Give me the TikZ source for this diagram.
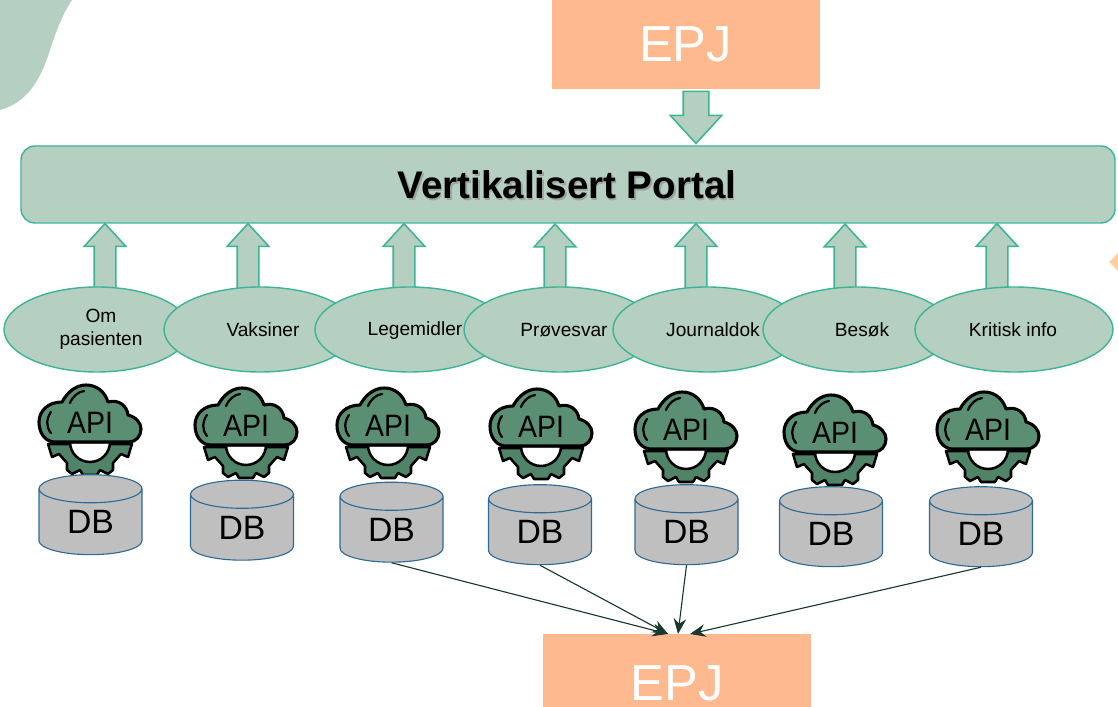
\documentclass[tikz,border=0pt]{standalone}
\usepackage{fontspec}
\setmainfont{Liberation Sans}
\usetikzlibrary{shapes.geometric,shapes.arrows,arrows.meta}

\definecolor{portalfill}{HTML}{B5CFC0}
\definecolor{portalline}{HTML}{3CB595}
\definecolor{epjfill}{HTML}{FFB98F}
\definecolor{cornerfill}{HTML}{FFD09C}
\definecolor{dbfill}{HTML}{BFBFBF}
\definecolor{dbline}{HTML}{2E6A96}
\definecolor{cloudfill}{HTML}{5A8F73}
\definecolor{gearfill}{HTML}{4F8468}
\definecolor{linkline}{HTML}{17392F}
\def\px{0.025cm}

\tikzset{
    epjbox/.style={fill=epjfill, text=white, inner sep=0pt, minimum width=268*\px, font=\fontsize{36}{36}\selectfont},
    upblock/.style={single arrow, draw=portalline, fill=portalfill, line width=1.1pt, inner xsep=0pt, inner ysep=10*\px, rotate=90, minimum height=66*\px, single arrow head extend=10*\px, single arrow tip angle=85},
    topic/.style={ellipse, draw=portalline, fill=portalfill, line width=1pt, inner sep=0pt, minimum height=85*\px},
    topiclabel/.style={align=center, inner sep=0pt, font=\fontsize{13.6}{16.5}\selectfont},
    dbstack/.style={cylinder, shape border rotate=90, aspect=0.6, draw=dbline, fill=dbfill, line width=0.8pt, inner sep=0pt, minimum width=103*\px, minimum height=80*\px, font=\fontsize{24}{24}\selectfont},
    pics/apiicon/.style={code={
        \draw[fill=gearfill, line width=1.8pt, line join=round] (-42,2) -- (-38,15) -- (-31,12) -- (-23,21) -- (-23,28) -- (-18,32) -- (-10,28) -- (-7,33) -- (7,33) -- (10,28) -- (18,32) -- (23,28) -- (23,21) -- (31,12) -- (38,15) -- (42,2) -- cycle;
        \draw[fill=white, line width=1.8pt] (-20,0) arc[start angle=180, end angle=360, radius=20*\px] -- cycle;
        \draw[fill=cloudfill, line width=2.2pt, line join=round] (-36,0) .. controls (-46,-1) and (-51,-10) .. (-51,-20) .. controls (-51,-31) and (-42,-40) .. (-28,-40) .. controls (-22,-51) and (-13,-57) .. (-4,-57) .. controls (7,-57) and (15,-50) .. (18,-40) .. controls (29,-43) and (37,-36) .. (38,-27) .. controls (46,-25) and (51,-19) .. (51,-13) .. controls (51,-6) and (46,0) .. (39,0) -- cycle;
        \draw[line width=1.6pt, line cap=round] (-39,-30) .. controls (-44,-23) and (-44,-15) .. (-39,-9);
        \draw[line width=1.6pt, line cap=round] (-20,-39) .. controls (-17,-46) and (-12,-50) .. (-6,-51);
        \node[inner sep=0pt, font=\fontsize{22}{22}\selectfont] (-txt) at (0,-19) {\scalebox{0.92}[1]{API}};
    }},
}

\begin{document}
\begin{tikzpicture}[x=\px, y=-\px]
    \clip (0,0) rectangle (1118,707);

    % corners of the slide
    \fill[portalfill] (0,0) -- (72,0) .. controls (62,15) and (56,32) .. (50,50) .. controls (42,75) and (30,102) .. (0,110) -- cycle;
    \fill[cornerfill] (1118,253) -- (1109,262) -- (1118,271) -- cycle;

    \node[epjbox, minimum height=89*\px] (epjtop) at (685.5,44.5) {EPJ};
    \node[epjbox, anchor=north, text height=66*\px, text depth=7*\px] (epjbottom) at (677,634) {EPJ};

    \node[draw=portalline, fill=portalfill, line width=1pt, rounded corners=14*\px, minimum width=1094*\px, minimum height=77*\px] (portal) at (568,184.5) {};
    \node[inner sep=0pt, text=black!45, opacity=0.6, font=\bfseries\fontsize{27.4}{28}\selectfont] (portalshade) at (568.5,186.5) {Vertikalisert Portal};
    \node[inner sep=0pt, font=\bfseries\fontsize{27.4}{28}\selectfont] (portaltitle) at (567,185) {Vertikalisert Portal};

    \node[upblock, rotate=180, minimum height=52*\px, inner ysep=12*\px, single arrow head extend=13*\px] (epjarrow) at (696,110.5) {};

    \foreach \i\x\y in {1/105/262.5, 2/248/262.5, 3/404/262.5, 4/555/263, 5/696/262.5, 6/845/263, 7/997/262.5}{
        \node[upblock] (up\i) at (\x,\y) {};
    }

    \foreach \i\x\w\lx\ly\j in {1/97/186/101/329/{Om\\pasienten}, 2/260/192/263/330/Vaksiner, 3/410/190/415/331/Legemidler, 4/560/192/564/330/Prøvesvar, 5/707/188/713/330/Journaldok, 6/857/188/862/330/Besøk, 7/1014/198/1013/330/Kritisk info}{
        \node[topic, minimum width=\w*\px] (topic\i) at (\x,329.5) {};
        \node[topiclabel] (label\i) at (\lx,\ly) {\j};
    }

    \foreach \i\x\y\dx\dy in {1/90/442/90.5/522, 2/246/445/242/527.5, 3/388/445/391.5/529.5, 4/541/446/540/532, 5/686/449/686.5/532, 6/835/452/831/534, 7/988/449/981/534}{
        \pic (api\i) at (\x,\y) {apiicon};
        \node[dbstack] (db\i) at (\dx,\dy) {DB};
    }

    \foreach \i\dx in {3/-9, 4/-9, 5/1, 7/13}{
        \draw[linkline, line width=0.8pt, -{Stealth[length=11pt, width=9pt]}] (db\i.south) -- ([xshift=\dx*\px]epjbottom.north);
    }
\end{tikzpicture}
\end{document}
